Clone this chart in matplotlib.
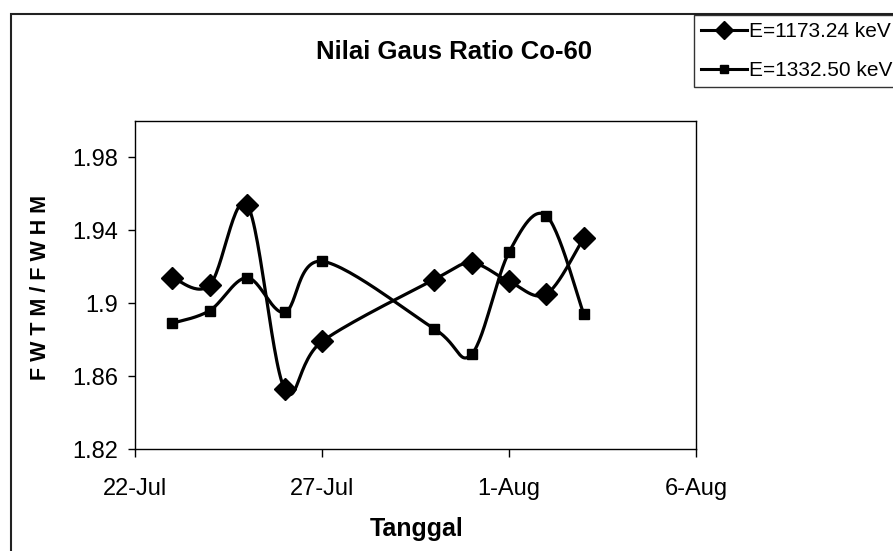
import numpy as np
import matplotlib
matplotlib.use("Agg")
import matplotlib.pyplot as plt
import matplotlib.dates as mdates
from matplotlib import font_manager
from matplotlib.patches import Rectangle
from matplotlib.lines import Line2D

plt.rcParams['font.family'] = ['Liberation Sans', 'DejaVu Sans']

# data
dates = ['2009-07-23', '2009-07-24', '2009-07-25', '2009-07-26', '2009-07-27',
         '2009-07-30', '2009-07-31', '2009-08-01', '2009-08-02', '2009-08-03']
e1173 = [1.914, 1.910, 1.954, 1.853, 1.879, 1.913, 1.922, 1.912, 1.905, 1.936]
e1332 = [1.889, 1.896, 1.914, 1.895, 1.923, 1.886, 1.872, 1.928, 1.948, 1.894]
labels = ['E=1173.24 keV', 'E=1332.50 keV']
xtick_dates = ['2009-07-22', '2009-07-27', '2009-08-01', '2009-08-06']
xtick_labels = ['22-Jul', '27-Jul', '1-Aug', '6-Aug']
yticks = [1.82, 1.86, 1.90, 1.94, 1.98]
ytick_labels = ['1.82', '1.86', '1.9', '1.94', '1.98']

# narrow font for the tick labels if it is there
try:
    font_manager.findfont('Liberation Sans Narrow', fallback_to_default=False)
    narrow = ['Liberation Sans Narrow']
    tick_fs, xl_fs = 18.5, 20
except ValueError:
    narrow = ['Liberation Sans']
    tick_fs, xl_fs = 17, 18


def smooth(x, y, n=30):
    # Excel-style smoothed line (Catmull-Rom bezier)
    x = np.asarray(x, float)
    y = np.asarray(y, float)
    px = np.concatenate([[x[0]], x, [x[-1]]])
    py = np.concatenate([[y[0]], y, [y[-1]]])
    xs, ys = [], []
    t = np.linspace(0, 1, n)
    for i in range(1, len(px) - 2):
        p0x, p0y = px[i], py[i]
        p3x, p3y = px[i + 1], py[i + 1]
        c1x = p0x + (px[i + 1] - px[i - 1]) / 6
        c1y = p0y + (py[i + 1] - py[i - 1]) / 6
        c2x = p3x - (px[i + 2] - px[i]) / 6
        c2y = p3y - (py[i + 2] - py[i]) / 6
        b = [(1 - t) ** 3, 3 * (1 - t) ** 2 * t, 3 * (1 - t) * t ** 2, t ** 3]
        xs.append(b[0] * p0x + b[1] * c1x + b[2] * c2x + b[3] * p3x)
        ys.append(b[0] * p0y + b[1] * c1y + b[2] * c2y + b[3] * p3y)
    return np.concatenate(xs), np.concatenate(ys)


x = mdates.date2num(np.array(dates, dtype='datetime64[D]'))
xt = mdates.date2num(np.array(xtick_dates, dtype='datetime64[D]'))

fig = plt.figure(figsize=(8.93, 5.51), dpi=100)
ax = fig.add_axes([135 / 893, 1 - 449 / 551, (696 - 135) / 893, (449 - 121) / 551])

sx, sy = smooth(x, e1173)
ax.plot(sx, sy, color='black', lw=2.3, zorder=2)
ax.plot(x, e1173, ls='none', marker='D', markersize=11.5, color='black', zorder=3)
sx, sy = smooth(x, e1332)
ax.plot(sx, sy, color='black', lw=2.3, zorder=2)
ax.plot(x, e1332, ls='none', marker='s', markersize=7.5, color='black', zorder=3)

ax.set_xlim(xt[0], xt[-1])
ax.set_ylim(1.82, 2.0)
ax.set_xticks(xt)
ax.set_xticklabels(xtick_labels, fontsize=tick_fs, family=narrow)
ax.set_yticks(yticks)
ax.set_yticklabels(ytick_labels, fontsize=tick_fs, family=narrow)
ax.tick_params(axis='x', direction='out', length=6, width=1, pad=15)
ax.tick_params(axis='y', direction='out', length=5, width=1, pad=7)
for s in ax.spines.values():
    s.set_linewidth(1)
    s.set_color('black')

fig.text(454 / 893, 1 - 52 / 551, 'Nilai Gaus Ratio Co-60', ha='center', va='center',
         fontsize=18.5, fontweight='bold')
fig.text(417 / 893, 1 - 529 / 551, 'Tanggal', ha='center', va='center',
         fontsize=xl_fs, fontweight='bold', family=narrow)
fig.text(41 / 893, 1 - 287 / 551, 'F W T M / F W H M', ha='center', va='center',
         rotation=90, fontsize=15.5, fontweight='bold')

handles = [Line2D([], [], color='black', lw=2.2, marker='D', markersize=9),
           Line2D([], [], color='black', lw=2.2, marker='s', markersize=6)]
leg = fig.legend(handles, labels, loc='upper left', bbox_to_anchor=(694 / 893, 1 - 15 / 551),
                 bbox_transform=fig.transFigure, fontsize=15, frameon=True, fancybox=False,
                 borderaxespad=0, borderpad=0.35, handlelength=2.2, handletextpad=0.1,
                 labelspacing=0.95)
leg.get_frame().set_edgecolor('black')
leg.get_frame().set_linewidth(1)

fig.add_artist(Rectangle((11 / 893, -0.1), 1.0, 1.1 - 14 / 551, transform=fig.transFigure,
                         fill=False, edgecolor='#222222', lw=1.5))

fig.savefig('out.png', dpi=100)
